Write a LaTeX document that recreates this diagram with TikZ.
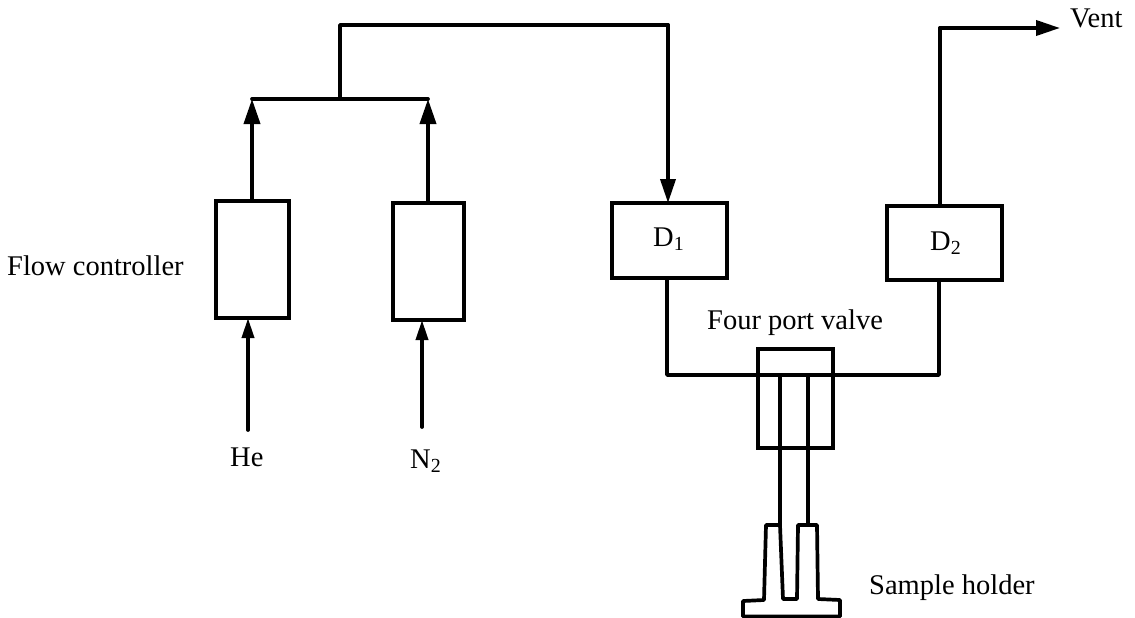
\documentclass[tikz,border=0pt]{standalone}
\usepackage{fontspec}
\setmainfont{Liberation Serif}
\usetikzlibrary{arrows.meta}
\tikzset{
  pipe/.style={line width=3.7pt, line cap=round, line join=round},
  flowbig/.style={pipe, -{Triangle[length=25pt,width=16pt]}},
  flowmid/.style={pipe, -{Triangle[length=24pt,width=15pt]}},
  flowsmall/.style={pipe, -{Triangle[length=20pt,width=12pt]}},
  unit/.style={draw, line width=4pt, inner sep=0pt, outer sep=0pt, anchor=north west},
  lbl/.style={inner sep=0pt, anchor=base west, font=\fontsize{28.5}{31}\selectfont}
}
\begin{document}
\begin{tikzpicture}[x=1pt,y=-1pt]
\useasboundingbox (0,0) rectangle (1135,618);
% units
\node[unit, minimum width=73pt, minimum height=117pt] (fc1) at (216,201) {};
\node[unit, minimum width=71pt, minimum height=117pt] (fc2) at (393,203) {};
\node[unit, minimum width=115pt, minimum height=75pt] (d1) at (612,203) {};
\node[unit, minimum width=115pt, minimum height=74pt] (d2) at (887,206) {};
\node[unit, minimum width=75pt, minimum height=99pt] (valve) at (758,349) {};
% labels
\node[lbl] (d1t) at (653,246) {D\textsubscript{1}};
\node[lbl] (d2t) at (930,250) {D\textsubscript{2}};
\node[lbl] (fct) at (7,275) {Flow controller};
\node[lbl] (he) at (230,466) {He};
\node[lbl] (n2) at (410,468) {N\textsubscript{2}};
\node[lbl] (fpv) at (707,329) {Four port valve};
\node[lbl] (vent) at (1070,28) {Vent};
\node[lbl] (sh) at (869,594) {Sample holder};
% coordinates
\coordinate (heT) at (248,430);
\coordinate (n2T) at (422,427);
\coordinate (up1) at (252,99);
\coordinate (up2) at (428,99);
\coordinate (riser) at (340,99);
\coordinate (top) at (340,25);
\coordinate (d1in) at (668,25);
\coordinate (ventc) at (940,28);
\coordinate (ventT) at (1060,28);
\coordinate (d1b) at (667,375);
\coordinate (d2b) at (939,375);
\coordinate (p1) at (780,375);
\coordinate (p2) at (808,375);
\coordinate (h1) at (780,525);
\coordinate (h2) at (808,525);
% connectors
\draw[flowsmall] (heT) -- (fc1.south -| heT);
\draw[flowsmall] (n2T) -- (fc2.south -| n2T);
\draw[flowbig] (fc1.north -| up1) -- (up1);
\draw[flowbig] (fc2.north -| up2) -- (up2);
\draw[pipe] (up1) -- (up2);
\draw[pipe] (riser) -- (top) -- (d1in);
\draw[flowmid] (d1in) -- (d1.north -| d1in);
\draw[pipe] (d2.north -| ventc) -- (ventc);
\draw[flowmid] (ventc) -- (ventT);
\draw[pipe] (d1.south -| d1b) -- (d1b) -- (d2b) -- (d2.south -| d2b);
\draw[pipe] (p1) -- (h1);
\draw[pipe] (p2) -- (h2);
% sample holder
\draw[pipe] (h1) -- (766,525) -- (764,600) -- (743,601) -- (743,616.5) -- (840,616.5) -- (840,600) -- (818,599) -- (817,525) -- (h2) -- (798,525) -- (797,599) -- (783,599) -- (h1);
\end{tikzpicture}
\end{document}
